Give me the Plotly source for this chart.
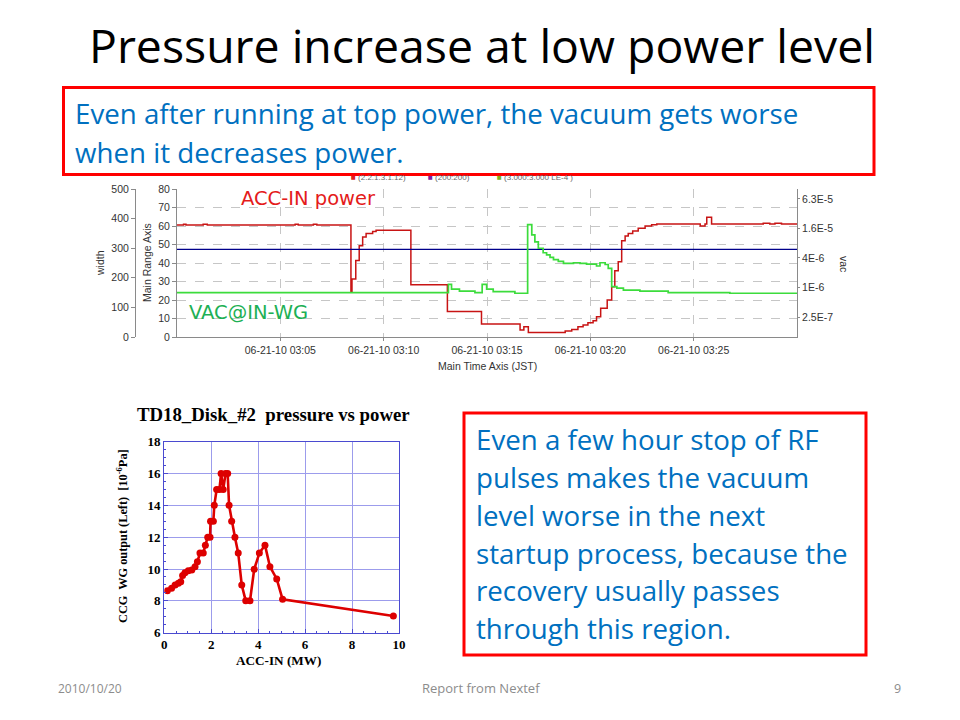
import plotly.graph_objects as go

# ---------------- data: top strip chart (06-21-10, JST) ----------------
DAY = "2010-06-21 "
red_times = ["03:00:00", "03:00:19", "03:00:26", "03:01:16", "03:01:28", "03:05:43", "03:05:52",
             "03:06:36", "03:06:46", "03:08:25", "03:08:28", "03:08:39", "03:08:49", "03:08:59",
             "03:09:09", "03:09:28", "03:09:38", "03:11:19", "03:13:05", "03:14:44", "03:16:36",
             "03:16:47", "03:17:00", "03:18:47", "03:19:06", "03:19:24", "03:19:39", "03:19:53",
             "03:20:08", "03:20:18", "03:20:30", "03:20:49", "03:21:02", "03:21:11", "03:21:21",
             "03:21:31", "03:21:41", "03:21:50", "03:22:03", "03:22:19", "03:22:39", "03:22:58",
             "03:23:13", "03:25:19", "03:25:33", "03:25:38", "03:25:52", "03:28:22", "03:28:41",
             "03:28:56", "03:29:15", "03:30:00"]
red_power = [60.5, 61.0, 60.5, 61.0, 60.5, 61.0, 60.5,
             61.0, 60.5, 24.5, 31.4, 41.3, 49.3, 54.1,
             56.0, 57.0, 57.7, 28.2, 13.8, 7.0, 3.8,
             5.6, 2.5, 3.2, 4.1, 5.6, 6.5, 7.7,
             8.8, 11.0, 15.5, 20.0, 27.2, 35.8, 40.7,
             52.0, 54.6, 56.0, 57.3, 58.8, 60.0, 60.7,
             61.1, 60.0, 61.1, 64.7, 61.1, 61.5, 61.1,
             61.5, 61.1, 61.1]

blue_times = ["03:00:00", "03:30:00"]
blue_width = [296, 296]

green_times = ["03:00:00", "03:13:08", "03:13:17", "03:13:40", "03:14:25", "03:14:46", "03:14:59",
               "03:15:18", "03:16:21", "03:16:58", "03:17:10", "03:17:19", "03:17:29", "03:17:43",
               "03:17:53", "03:18:03", "03:18:13", "03:18:27", "03:18:42", "03:19:11", "03:19:30",
               "03:19:49", "03:20:18", "03:20:28", "03:20:43", "03:20:52", "03:21:02", "03:21:17",
               "03:21:36", "03:22:24", "03:23:46", "03:26:45", "03:30:00"]
green_vac = [7.9e-7, 1.17e-6, 9.3e-7, 8.5e-7, 7.9e-7, 1.17e-6, 9.3e-7,
             8.3e-7, 7.7e-7, 1.9e-5, 1.17e-5, 8.5e-6, 6.3e-6, 5.1e-6,
             4.6e-6, 4.1e-6, 3.7e-6, 3.4e-6, 3.1e-6, 3.2e-6, 3.1e-6,
             3.0e-6, 2.75e-6, 3.2e-6, 2.95e-6, 2.45e-6, 1.05e-6, 9.8e-7,
             8.9e-7, 8.5e-7, 7.9e-7, 7.7e-7, 7.7e-7]

time_ticks = ["03:05", "03:10", "03:15", "03:20", "03:25"]
vac_tickvals = [2.5e-7, 1e-6, 4e-6, 1.6e-5, 6.3e-5]
vac_ticktext = ["2.5E-7", "1E-6", "4E-6", "1.6E-5", "6.3E-5"]

# ---------------- data: bottom chart TD18_Disk_#2 ----------------
power_mw = [0.13, 0.31, 0.46, 0.60, 0.70, 0.78, 0.88, 1.02, 1.17, 1.31, 1.41, 1.52, 1.66,
            1.75, 1.85, 1.95, 1.97, 2.09, 2.13, 2.23, 2.35, 2.42, 2.51, 2.61, 2.70, 2.76,
            2.87, 3.01, 3.15, 3.30, 3.47, 3.65, 3.83, 4.05, 4.29, 4.50, 4.79, 5.04, 9.76]
pressure = [8.64, 8.79, 9.0, 9.1, 9.2, 9.6, 9.77, 9.9, 9.94, 10.15, 10.46, 11.0, 11.0,
            11.5, 12.0, 12.0, 13.0, 13.0, 14.0, 15.0, 15.0, 16.0, 15.0, 16.0, 16.0, 14.0,
            13.0, 12.0, 11.0, 9.0, 8.0, 8.0, 9.98, 11.0, 11.5, 10.15, 9.38, 8.1, 7.05]

# ---------------- helpers ----------------
W, H = 960, 720
def X(px):
    return px / W
def Y(py):
    return 1 - py / H

SANS = "Liberation Sans"
SLIDE = "Open Sans"
SERIF = "Liberation Serif"
TICK = dict(family=SANS, size=10.5, color="#333333")
GRID = "#c6c6c6"
AXL = "#8a8a8a"

fig = go.Figure()

fig.add_trace(go.Scatter(x=[DAY + t for t in blue_times], y=blue_width, mode="lines",
                         line=dict(color="#00008b", width=1.2),
                         xaxis="x", yaxis="y2", hoverinfo="skip"))
fig.add_trace(go.Scatter(x=[DAY + t for t in green_times], y=green_vac, mode="lines",
                         line=dict(color="#3cdc3c", width=1.7, shape="hv"),
                         xaxis="x", yaxis="y3", hoverinfo="skip"))
fig.add_trace(go.Scatter(x=[DAY + t for t in red_times], y=red_power, mode="lines",
                         line=dict(color="#c81414", width=1.5, shape="hv"),
                         xaxis="x", yaxis="y", hoverinfo="skip"))

fig.add_trace(go.Scatter(x=power_mw, y=pressure, mode="lines+markers",
                         line=dict(color="#dd0000", width=2.6),
                         marker=dict(size=7, color="#dd0000"),
                         xaxis="x2", yaxis="y4", hoverinfo="skip"))

top_dom = [Y(337), Y(189)]
fig.update_layout(
    width=W, height=H, margin=dict(l=0, r=0, t=0, b=0),
    paper_bgcolor="white", plot_bgcolor="white", showlegend=False,
    template="none",
    xaxis=dict(domain=[X(177), X(797)], anchor="y", type="date",
               range=[DAY + "03:00:00", DAY + "03:30:00"],
               tickvals=[DAY + t for t in time_ticks], tickformat="%m-%d-%y %H:%M",
               showgrid=True, gridcolor=GRID, griddash="dash", gridwidth=1,
               showline=True, linecolor=AXL, linewidth=1, ticks="outside", ticklen=3,
               tickcolor=AXL, tickfont=TICK, zeroline=False),
    yaxis=dict(domain=top_dom, anchor="x", range=[0, 80], dtick=10,
               showgrid=True, gridcolor=GRID, griddash="dash", gridwidth=1,
               showline=True, linecolor=AXL, ticks="outside", ticklen=4, tickcolor=AXL,
               tickfont=TICK, zeroline=False),
    yaxis2=dict(overlaying="y", anchor="free", position=X(135), side="left",
                range=[0, 500], dtick=100, showgrid=False, showline=True,
                linecolor=AXL, ticks="outside", ticklen=4, tickcolor=AXL,
                tickfont=TICK, zeroline=False),
    yaxis3=dict(overlaying="y", anchor="x", side="right", type="log", range=[-7, -4],
                tickvals=vac_tickvals, ticktext=vac_ticktext, showgrid=False,
                showline=True, linecolor=AXL, ticks="outside", ticklen=2, tickcolor=AXL,
                tickfont=TICK, zeroline=False),
    xaxis2=dict(domain=[X(164.3), X(399)], anchor="y4", range=[0, 10], dtick=2,
                showgrid=True, gridcolor="#9c9cec", gridwidth=1,
                showline=True, linecolor="#4a4ad0", linewidth=1.2, mirror=True,
                ticks="inside", ticklen=4, tickcolor="#4a4ad0",
                minor=dict(dtick=0.5, ticks="inside", ticklen=2, tickcolor="#4a4ad0", showgrid=False),
                tickfont=dict(family=SERIF, size=13, color="black", weight="bold"),
                zeroline=False),
    yaxis4=dict(domain=[Y(632.7), Y(441.7)], anchor="x2", range=[6, 18], dtick=2,
                showgrid=True, gridcolor="#9c9cec", gridwidth=1,
                showline=True, linecolor="#4a4ad0", linewidth=1.2, mirror=True,
                ticks="inside", ticklen=4, tickcolor="#4a4ad0",
                minor=dict(dtick=0.5, ticks="inside", ticklen=2, tickcolor="#4a4ad0", showgrid=False),
                tickfont=dict(family=SERIF, size=13, color="black", weight="bold"),
                zeroline=False),
)

BLUE_TXT = "#0070c0"
anns = []
def ann(text, x, y, size, color="black", family=SLIDE, xanchor="left", yanchor="middle", angle=0):
    anns.append(dict(text=text, x=X(x), y=Y(y), xref="paper", yref="paper",
                     xanchor=xanchor, yanchor=yanchor, showarrow=False, textangle=angle,
                     font=dict(family=family, size=size, color=color), borderpad=0))

# slide title
ann("Pressure increase at low power level", 481.5, 45, 46.4, xanchor="center")
# top box text
ann("Even after running at top power, the vacuum gets worse", 73.5, 112.5, 27.7, BLUE_TXT)
ann("when it decreases power.", 73.5, 151.5, 27.7, BLUE_TXT)
# right box text
box2_lines = ["Even a few hour stop of RF", "pulses makes the vacuum", "level worse in the next",
              "startup process, because the", "recovery usually passes", "through this region."]
box2_y = [439.3, 477, 515, 552.7, 590.3, 628.3]
for s, yy in zip(box2_lines, box2_y):
    ann(s, 474.5, yy, 27.7, BLUE_TXT)
# footer
ann("2010/10/20", 90, 688, 12, "#8c8c8c", xanchor="center")
ann("Report from Nextef", 480.5, 688, 13, "#8c8c8c", xanchor="center")
ann("9", 897, 688, 12.5, "#8c8c8c", xanchor="center")

# top chart labels
ann("ACC-IN power", 240, 198.5, 19.5, "#e41b1b", family="DejaVu Sans")
ann("VAC@IN-WG", 188, 312, 19.5, "#1db055", family="DejaVu Sans")
ann("Main Range Axis", 147, 263, 10.5, "#333333", family=SANS, xanchor="center", angle=-90)
ann("width", 100, 263, 10.5, "#333333", family=SANS, xanchor="center", angle=-90)
ann("vac", 844, 264, 10.5, "#333333", family=SANS, xanchor="center", angle=90)
ann("Main Time Axis (JST)", 487, 366, 10.5, "#333333", family=SANS, xanchor="center")
# mini legend (partly hidden under the box border in the original)
ann("<span style='color:#e02020'>■</span> (2.2.1.3.1.12)", 350, 177, 8, "#666666", family=SANS)
ann("<span style='color:#8020a0'>■</span> (200:200)", 427, 177, 8, "#666666", family=SANS)
ann("<span style='color:#80b020'>■</span> (3.000:3.000 LE-4 )", 496, 177, 8, "#666666", family=SANS)

# bottom chart labels
ann("<b>TD18_Disk_#2  pressure vs power</b>", 273.5, 415, 18.8, family=SERIF, xanchor="center")
ann("<b>ACC-IN (MW)</b>", 278, 660, 13.2, family=SERIF, xanchor="center")
ann("<b>CCG  WG output (Left)  [10<sup>-6</sup>Pa]</b>", 122, 536, 12.3, family=SERIF,
    xanchor="center", angle=-90)

fig.update_layout(annotations=anns)

# red outline boxes
fig.update_layout(shapes=[
    dict(type="rect", xref="paper", yref="paper", x0=X(63.5), x1=X(874), y0=Y(87.5), y1=Y(174.5),
         line=dict(color="#ff0000", width=3), fillcolor="rgba(0,0,0,0)", layer="above"),
    dict(type="rect", xref="paper", yref="paper", x0=X(464), x1=X(866), y0=Y(413), y1=Y(655),
         line=dict(color="#ff0000", width=3), fillcolor="rgba(0,0,0,0)", layer="above"),
])

fig.write_html("out.html", config={"displayModeBar": False},
               post_script="document.body.style.margin='0';")
